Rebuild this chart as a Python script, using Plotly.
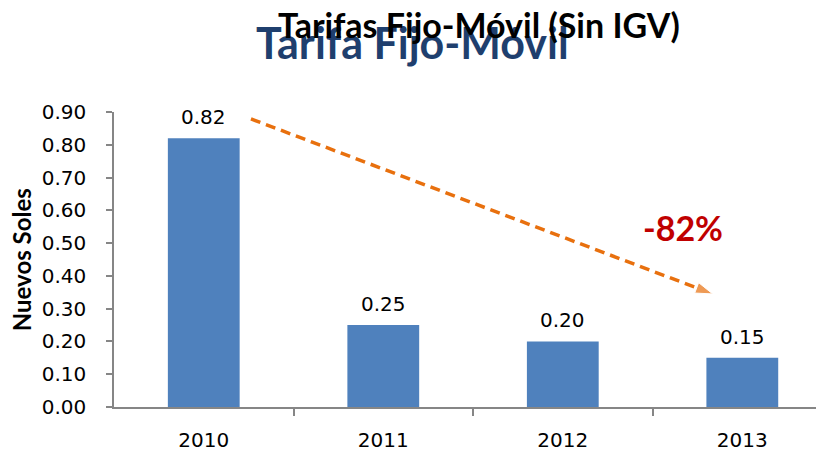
import plotly.graph_objects as go

years = ["2010", "2011", "2012", "2013"]
tarifa = [0.82, 0.25, 0.20, 0.15]
labels = ["0.82", "0.25", "0.20", "0.15"]
y_ticks = [0.0, 0.1, 0.2, 0.3, 0.4, 0.5, 0.6, 0.7, 0.8, 0.9]

# trend arrow endpoints (category index, value)
arrow_x = [0.263, 2.835]
arrow_y = [0.879, 0.345]

FONT = "Lato, 'Open Sans', sans-serif"
NUM_FONT = "'DejaVu Sans', sans-serif"
AXIS = "#868686"
ORANGE = "#E8700E"

fig = go.Figure()
fig.add_trace(go.Bar(x=[0, 1, 2, 3], y=tarifa, marker_color="#4F81BD", width=0.4,
                     marker_line_width=0, showlegend=False, hoverinfo="skip"))
fig.add_trace(go.Scatter(x=arrow_x, y=arrow_y, mode="lines+markers",
                         line=dict(color=ORANGE, width=3.5, dash="10px,6px"),
                         marker=dict(symbol="arrow", size=[0, 18], angleref="previous", color=ORANGE),
                         showlegend=False, hoverinfo="skip", cliponaxis=False))

for i, (v, t) in enumerate(zip(tarifa, labels)):
  fig.add_annotation(x=i, y=v, text=t, showarrow=False, yanchor="bottom", yshift=7,
                     font=dict(size=20, color="#000000", family=NUM_FONT))

fig.add_annotation(x=2.67, y=0.549, text="<b>-82%</b>", showarrow=False,
                   font=dict(size=34, color="#C00000"))

fig.add_annotation(xref="paper", yref="paper", x=-0.13, y=0.5, text="<b>Nuevos Soles</b>",
                   xanchor="center", yanchor="middle",
                   textangle=-90, showarrow=False, font=dict(size=24, color="#000000"))

# two overlapping titles as in the original slide
fig.add_annotation(xref="paper", yref="paper", x=0.421, y=1.237, text="<b>Tarifa Fijo-Móvil</b>",
                   xanchor="center", yanchor="middle",
                   showarrow=False, font=dict(size=43, color="#1F3F6E"))
fig.add_annotation(xref="paper", yref="paper", x=0.514, y=1.295, text="<b>Tarifas Fijo-Móvil (Sin IGV)</b>",
                   xanchor="center", yanchor="middle",
                   showarrow=False, font=dict(size=34, color="#000000"))

fig.update_xaxes(range=[-0.5, 3.455], tickvals=[0, 1, 2, 3], ticktext=years,
                 showgrid=False, zeroline=False, showline=True, linecolor=AXIS, linewidth=1.5,
                 ticks="", tickfont=dict(size=20, color="#000000", family=NUM_FONT),
                 ticklabelstandoff=14,
                 minor=dict(tickvals=[0.5, 1.5, 2.5], ticks="outside", ticklen=7,
                            tickcolor=AXIS, tickwidth=1.5, showgrid=False))

fig.update_yaxes(range=[0, 0.9], tickvals=y_ticks, tickformat=".2f", showgrid=False,
                 zeroline=False, showline=True, linecolor=AXIS, linewidth=1.5,
                 ticks="outside", ticklen=6, tickcolor=AXIS, tickwidth=1.5,
                 ticklabelstandoff=16,
                 tickfont=dict(size=20, color="#000000", family=NUM_FONT))

# page keeps an 8px body margin, so the figure is 8px smaller than the window
fig.update_layout(width=816, height=445, plot_bgcolor="white", paper_bgcolor="white",
                  margin=dict(l=106, r=0, t=104, b=46),
                  font=dict(family=FONT))

fig.write_html("out.html")
